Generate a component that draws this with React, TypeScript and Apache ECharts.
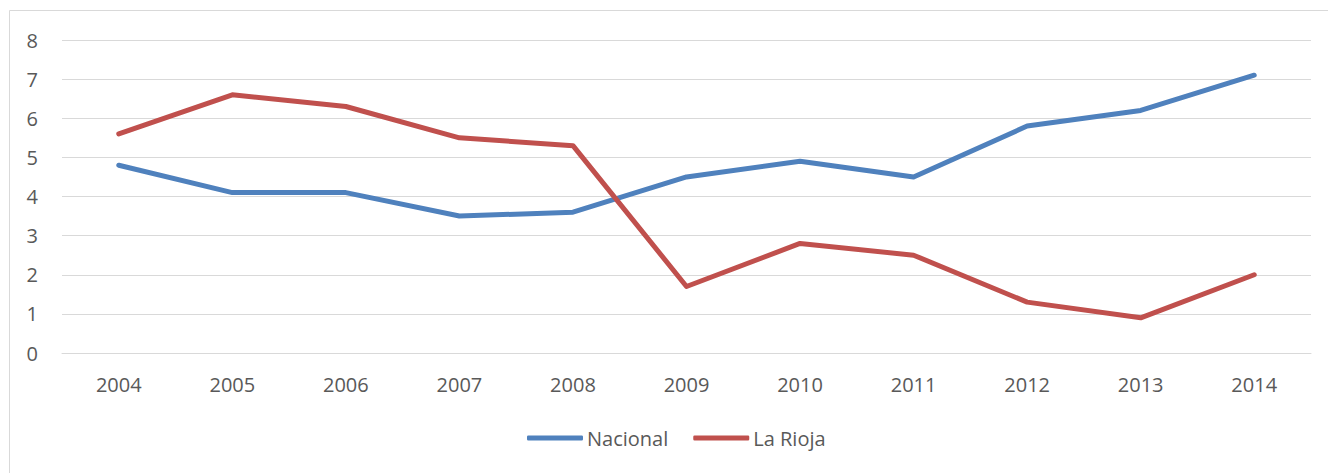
import React, { useEffect, useRef } from "react";
import * as echarts from "echarts";

const years = ["2004", "2005", "2006", "2007", "2008", "2009", "2010", "2011", "2012", "2013", "2014"];
const nacional = [4.8, 4.1, 4.1, 3.5, 3.6, 4.5, 4.9, 4.5, 5.8, 6.2, 7.1];
const laRioja = [5.6, 6.6, 6.3, 5.5, 5.3, 1.7, 2.8, 2.5, 1.3, 0.9, 2.0];
const seriesNames = ["Nacional", "La Rioja"];

const FONT = "'Open Sans', 'Noto Sans', sans-serif";
const TEXT = "#595959";
const GRID = "#d9d9d9";

export default function App() {
  const ref = useRef<HTMLDivElement>(null);
  useEffect(() => {
    if (!ref.current) return;
    const chart = echarts.init(ref.current, undefined, { renderer: "svg" });
    chart.setOption({
      animation: false,
      backgroundColor: "#ffffff",
      textStyle: { fontFamily: FONT },
      graphic: [
        {
          type: "rect",
          shape: { x: 9.5, y: 10.5, width: 1330, height: 480 },
          style: { fill: "none", stroke: GRID, lineWidth: 1 },
          silent: true,
        },
      ],
      grid: { left: 62, right: 17, top: 40, bottom: 120 },
      legend: {
        bottom: 25,
        left: 527,
        padding: 0,
        data: seriesNames,
        icon: "roundRect",
        itemWidth: 56,
        itemHeight: 5,
        itemGap: 25,
        textStyle: { color: TEXT, fontSize: 20, fontFamily: FONT, padding: [0, 0, 0, -1] },
      },
      xAxis: {
        type: "category",
        data: years,
        boundaryGap: true,
        axisLine: { show: true, lineStyle: { color: GRID, width: 1 } },
        axisTick: { show: false },
        axisLabel: { color: TEXT, fontSize: 20, margin: 21, fontFamily: FONT },
      },
      yAxis: {
        type: "value",
        min: 0,
        max: 8,
        interval: 1,
        axisLine: { show: false },
        axisTick: { show: false },
        splitLine: { lineStyle: { color: GRID, width: 1 } },
        axisLabel: { color: TEXT, fontSize: 20, margin: 24, fontFamily: FONT },
      },
      series: [
        {
          name: seriesNames[0],
          type: "line",
          data: nacional,
          symbol: "none",
          lineStyle: { color: "#4F81BD", width: 5, cap: "round", join: "round" },
          itemStyle: { color: "#4F81BD" },
        },
        {
          name: seriesNames[1],
          type: "line",
          data: laRioja,
          symbol: "none",
          lineStyle: { color: "#C0504D", width: 5, cap: "round", join: "round" },
          itemStyle: { color: "#C0504D" },
        },
      ],
    });
    return () => chart.dispose();
  }, []);
  return (
    <div
      ref={ref}
      style={{ position: "absolute", left: 0, top: 0, width: 1328, height: 473 }}
    />
  );
}
